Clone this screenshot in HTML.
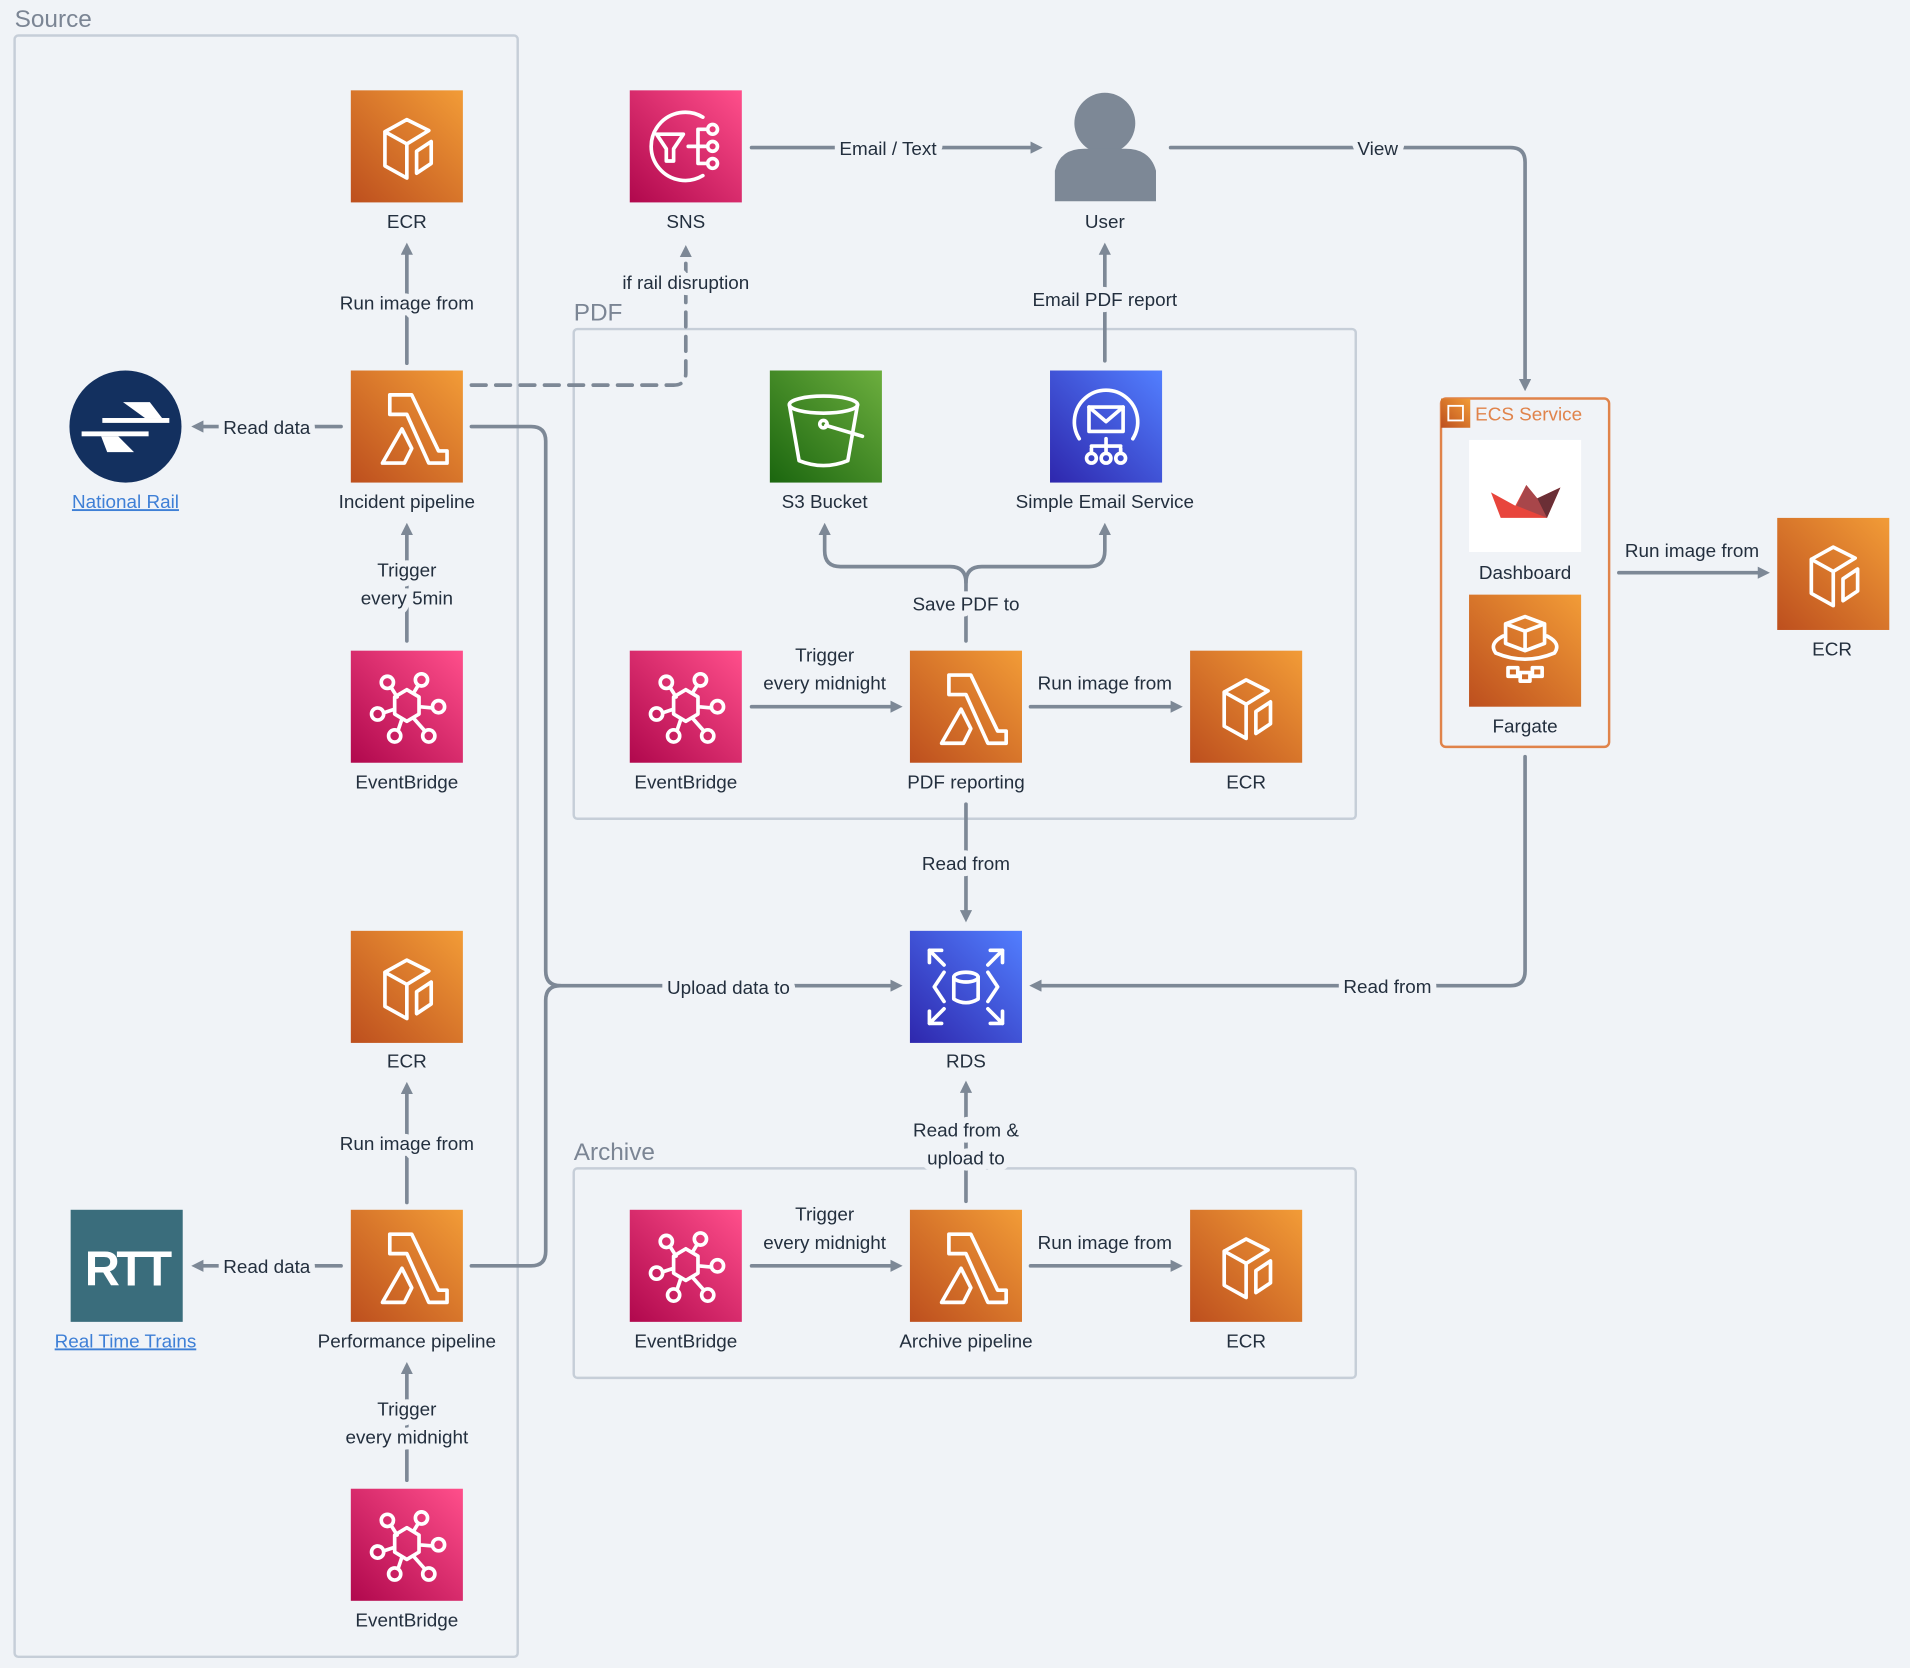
<!DOCTYPE html>
<html><head><meta charset="utf-8"><style>
html,body{margin:0;padding:0;background:#f0f3f7;}
svg{display:block;}
text{font-family:"Liberation Sans",sans-serif;}
.lb{font-size:15.5px;fill:#232f3e;text-anchor:middle;}
.cl{font-size:15.5px;fill:#232f3e;text-anchor:middle;stroke:#f0f3f7;stroke-width:10px;paint-order:stroke;stroke-linejoin:round;}
.gl{font-size:20px;fill:#7b8594;}
.ln{stroke:#7d8896;stroke-width:3;fill:none;stroke-linecap:round;stroke-linejoin:round;}
.ic{stroke:#fff;stroke-width:3;fill:none;stroke-linejoin:round;stroke-linecap:round;}
</style></head><body>
<svg width="1910" height="1668" viewBox="0 0 1568 1369" xmlns="http://www.w3.org/2000/svg">
<defs>
<linearGradient id="or" x1="0" y1="1" x2="1" y2="0"><stop offset="0" stop-color="#bd4f1e"/><stop offset="1" stop-color="#f29c37"/></linearGradient>
<linearGradient id="pk" x1="0" y1="1" x2="1" y2="0"><stop offset="0" stop-color="#b0084d"/><stop offset="1" stop-color="#ff4f8b"/></linearGradient>
<linearGradient id="gr" x1="0" y1="1" x2="1" y2="0"><stop offset="0" stop-color="#1b660f"/><stop offset="1" stop-color="#6cae3e"/></linearGradient>
<linearGradient id="bl" x1="0" y1="1" x2="1" y2="0"><stop offset="0" stop-color="#2e27ad"/><stop offset="1" stop-color="#527fff"/></linearGradient>
<marker id="ar" markerWidth="10" markerHeight="10" refX="5" refY="5" orient="auto" markerUnits="userSpaceOnUse"><path d="M0,0 L10,5 L0,10 z" fill="#7d8896"/></marker>
<g id="ecr"><rect width="92" height="92" fill="url(#or)"/><path class="ic" d="M46,24 L64,33 L46,44 L46,72 L28,62 L28,34 Z M46,44 L28,34 M54,50 L66,42 L66,60 L54,68 Z"/></g>
<g id="lam"><rect width="92" height="92" fill="url(#or)"/><path class="ic" d="M32,20 L50,20 L72,66 L79,66 L79,76 L64,76 L46,36 L32,36 Z M42,48 L50,64 L44,76 L26,76 Z"/></g>
<g id="eb"><rect width="92" height="92" fill="url(#pk)"/><g class="ic"><circle cx="30" cy="26" r="5"/><circle cx="58" cy="24" r="5"/><circle cx="72" cy="46" r="5"/><circle cx="22" cy="52" r="5"/><circle cx="36" cy="70" r="5"/><circle cx="64" cy="70" r="5"/><path d="M36,38 L46,32 L56,38 L56,52 L46,58 L36,52 Z M33,30 L38,38 M55,29 L52,34 M67,47 L56,46 M27,51 L36,48 M39,65 L42,56 M60,65 L52,56"/></g></g>
</defs>
<rect width="1568" height="1369" fill="#f0f3f7"/>
<!-- groups -->
<text class="gl" x="12" y="22">Source</text>
<rect x="12" y="29" width="413" height="1331" rx="3" fill="none" stroke="#c6ced8" stroke-width="2"/>
<text class="gl" x="471" y="263">PDF</text>
<rect x="471" y="270" width="642" height="402" rx="3" fill="none" stroke="#c6ced8" stroke-width="2"/>
<text class="gl" x="471" y="952">Archive</text>
<rect x="471" y="959" width="642" height="172" rx="3" fill="none" stroke="#c6ced8" stroke-width="2"/>
<rect x="1183" y="327" width="138" height="286" rx="4" fill="none" stroke="#e0834a" stroke-width="2"/>
<rect x="1183" y="327" width="24" height="24" fill="url(#or)"/>
<rect x="1189" y="333" width="12" height="12" fill="none" stroke="#fff" stroke-width="1.5"/>
<text x="1211" y="345" style="font-size:15.5px;fill:#e0834a">ECS Service</text>

<!-- connectors -->
<g class="ln">
<line x1="334" y1="298" x2="334" y2="204" marker-end="url(#ar)"/>
<line x1="280" y1="350" x2="162" y2="350" marker-end="url(#ar)"/>
<line x1="334" y1="526" x2="334" y2="434" marker-end="url(#ar)"/>
<path d="M387,316 L553,316 Q563,316 563,306 L563,206" stroke-dasharray="12,8" marker-end="url(#ar)"/>
<line x1="617" y1="121" x2="851" y2="121" marker-end="url(#ar)"/>
<path d="M961,121 L1240,121 Q1252,121 1252,133 L1252,316" marker-end="url(#ar)"/>
<line x1="907" y1="296" x2="907" y2="204" marker-end="url(#ar)"/>
<path d="M793,526 L793,478 Q793,465 780,465 L690,465 Q677,465 677,452 L677,434" marker-end="url(#ar)"/>
<path d="M793,478 Q793,465 806,465 L894,465 Q907,465 907,452 L907,434" marker-end="url(#ar)"/>
<line x1="617" y1="580" x2="736" y2="580" marker-end="url(#ar)"/>
<line x1="846" y1="580" x2="966" y2="580" marker-end="url(#ar)"/>
<line x1="793" y1="660" x2="793" y2="752" marker-end="url(#ar)"/>
<path d="M387,350 L436,350 Q448,350 448,362 L448,797 Q448,809 460,809 L736,809" marker-end="url(#ar)"/>
<path d="M387,1039 L436,1039 Q448,1039 448,1027 L448,821 Q448,809 460,809"/>
<path d="M1252,621 L1252,797 Q1252,809 1240,809 L850,809" marker-end="url(#ar)"/>
<line x1="793" y1="986" x2="793" y2="892" marker-end="url(#ar)"/>
<line x1="334" y1="987" x2="334" y2="893" marker-end="url(#ar)"/>
<line x1="280" y1="1039" x2="162" y2="1039" marker-end="url(#ar)"/>
<line x1="334" y1="1215" x2="334" y2="1123" marker-end="url(#ar)"/>
<line x1="617" y1="1039" x2="736" y2="1039" marker-end="url(#ar)"/>
<line x1="846" y1="1039" x2="966" y2="1039" marker-end="url(#ar)"/>
<line x1="1329" y1="470" x2="1448" y2="470" marker-end="url(#ar)"/>
</g>
<!-- connector labels -->
<text class="cl" x="334" y="254">Run image from</text>
<text class="cl" x="219" y="356">Read data</text>
<text class="cl" x="334" y="473">Trigger</text>
<text class="cl" x="334" y="496">every 5min</text>
<text class="cl" x="563" y="237">if rail disruption</text>
<text class="cl" x="729" y="127">Email / Text</text>
<text class="cl" x="1131" y="127">View</text>
<text class="cl" x="907" y="251">Email PDF report</text>
<text class="cl" x="793" y="501">Save PDF to</text>
<text class="cl" x="677" y="543">Trigger</text>
<text class="cl" x="677" y="566">every midnight</text>
<text class="cl" x="907" y="566">Run image from</text>
<text class="cl" x="793" y="714">Read from</text>
<text class="cl" x="598" y="816">Upload data to</text>
<text class="cl" x="1139" y="815">Read from</text>
<text class="cl" x="793" y="933">Read from &amp;</text>
<text class="cl" x="793" y="956">upload to</text>
<text class="cl" x="334" y="944">Run image from</text>
<text class="cl" x="219" y="1045">Read data</text>
<text class="cl" x="334" y="1162">Trigger</text>
<text class="cl" x="334" y="1185">every midnight</text>
<text class="cl" x="677" y="1002">Trigger</text>
<text class="cl" x="677" y="1025">every midnight</text>
<text class="cl" x="907" y="1025">Run image from</text>
<text class="cl" x="1389" y="457">Run image from</text>

<!-- nodes -->
<use href="#ecr" x="288" y="74"/><text class="lb" x="334" y="187">ECR</text>
<rect x="517" y="74" width="92" height="92" fill="url(#pk)"/>
<g class="ic" transform="translate(517,74)"><path d="M60,22 A28,28 0 1 0 60,70"/><path d="M22,36 L44,36 L36,48 L36,58 L30,58 L30,48 Z"/><line x1="48" y1="46" x2="62" y2="46"/><circle cx="68" cy="32" r="4"/><circle cx="68" cy="46" r="4"/><circle cx="68" cy="60" r="4"/><path d="M56,32 L64,32 M56,60 L64,60 M56,32 L56,60"/></g>
<text class="lb" x="563" y="187">SNS</text>
<circle cx="907" cy="101" r="25" fill="#7d8896"/>
<path d="M866,165 L866,140 Q870,122 890,122 L924,122 Q944,122 949,140 L949,165 Z" fill="#7d8896"/>
<text class="lb" x="907" y="187">User</text>

<circle cx="103" cy="350" r="46" fill="#13305f"/>
<g fill="#fff"><rect x="84" y="343" width="55" height="4"/><rect x="67" y="354" width="55" height="4"/><path d="M101,330 L123,330 L133,343 L119,343 Z"/><path d="M83,358 L97,358 L110,371 L88,371 Z"/></g>
<text x="103" y="417" style="font-size:15.5px;fill:#3e7fd6;text-anchor:middle;text-decoration:underline">National Rail</text>
<use href="#lam" x="288" y="304"/><text class="lb" x="334" y="417">Incident pipeline</text>
<use href="#eb" x="288" y="534"/><text class="lb" x="334" y="647">EventBridge</text>

<rect x="632" y="304" width="92" height="92" fill="url(#gr)"/>
<g class="ic" transform="translate(632,304)"><ellipse cx="44" cy="28" rx="28" ry="7"/><path d="M16,28 L24,74 Q44,82 64,74 L72,28"/><circle cx="44" cy="44" r="3"/><path d="M46,45 L76,54"/></g>
<text class="lb" x="677" y="417">S3 Bucket</text>
<rect x="862" y="304" width="92" height="92" fill="url(#bl)"/>
<g class="ic" transform="translate(862,304)"><path d="M24,56 A26,26 0 1 1 68,56"/><rect x="32" y="30" width="28" height="20"/><path d="M32,30 L46,42 L60,30"/><path d="M46,56 L46,68 M34,64 L34,68 M58,64 L58,68 M34,62 L58,62"/><circle cx="34" cy="72" r="4"/><circle cx="46" cy="72" r="4"/><circle cx="58" cy="72" r="4"/></g>
<text class="lb" x="907" y="417">Simple Email Service</text>

<use href="#eb" x="517" y="534"/><text class="lb" x="563" y="647">EventBridge</text>
<use href="#lam" x="747" y="534"/><text class="lb" x="793" y="647">PDF reporting</text>
<use href="#ecr" x="977" y="534"/><text class="lb" x="1023" y="647">ECR</text>

<rect x="747" y="764" width="92" height="92" fill="url(#bl)"/>
<g class="ic" transform="translate(747,764)"><ellipse cx="46" cy="38" rx="10" ry="4"/><path d="M36,38 L36,56 Q46,62 56,56 L56,38"/><path d="M28,34 L20,46 L28,58 M64,34 L72,46 L64,58 M16,16 L28,28 M16,16 L16,26 M16,16 L26,16 M76,16 L64,28 M76,16 L76,26 M76,16 L66,16 M16,76 L28,64 M16,76 L16,66 M16,76 L26,76 M76,76 L64,64 M76,76 L76,66 M76,76 L66,76"/></g>
<text class="lb" x="793" y="876">RDS</text>

<use href="#ecr" x="288" y="764"/><text class="lb" x="334" y="876">ECR</text>
<rect x="58" y="993" width="92" height="92" fill="#3a6d7c"/>
<text x="104" y="1055" style="font-size:40px;fill:#fff;text-anchor:middle;font-weight:bold;letter-spacing:-3px">RTT</text>
<text x="103" y="1106" style="font-size:15.5px;fill:#3e7fd6;text-anchor:middle;text-decoration:underline">Real Time Trains</text>
<use href="#lam" x="288" y="993"/><text class="lb" x="334" y="1106">Performance pipeline</text>
<use href="#eb" x="288" y="1222"/><text class="lb" x="334" y="1335">EventBridge</text>

<use href="#eb" x="517" y="993"/><text class="lb" x="563" y="1106">EventBridge</text>
<use href="#lam" x="747" y="993"/><text class="lb" x="793" y="1106">Archive pipeline</text>
<use href="#ecr" x="977" y="993"/><text class="lb" x="1023" y="1106">ECR</text>

<rect x="1206" y="361" width="92" height="92" fill="#fff"/>
<path d="M1224,404 L1244,415 L1253,398 L1262,409 L1281,400 L1270,425 L1232,425 Z" fill="#e8453c"/>
<path d="M1253,398 L1262,409 L1270,425 L1245,415 Z" fill="#a8464a"/>
<path d="M1262,409 L1281,400 L1270,425 Z" fill="#6b2f36"/>
<text class="lb" x="1252" y="475">Dashboard</text>
<rect x="1206" y="488" width="92" height="92" fill="url(#or)"/>
<g class="ic" transform="translate(1206,488)"><path d="M30,24 L46,18 L62,24 L62,40 L46,46 L30,40 Z M30,24 L46,30 L62,24 M46,30 L46,46"/><path d="M28,34 Q16,40 22,48 Q46,58 70,48 Q76,40 64,34"/><rect x="32" y="60" width="8" height="7"/><rect x="52" y="60" width="8" height="7"/><rect x="42" y="64" width="8" height="7"/></g>
<text class="lb" x="1252" y="601">Fargate</text>
<use href="#ecr" x="1459" y="425"/><text class="lb" x="1504" y="538">ECR</text>
</svg>
</body></html>
